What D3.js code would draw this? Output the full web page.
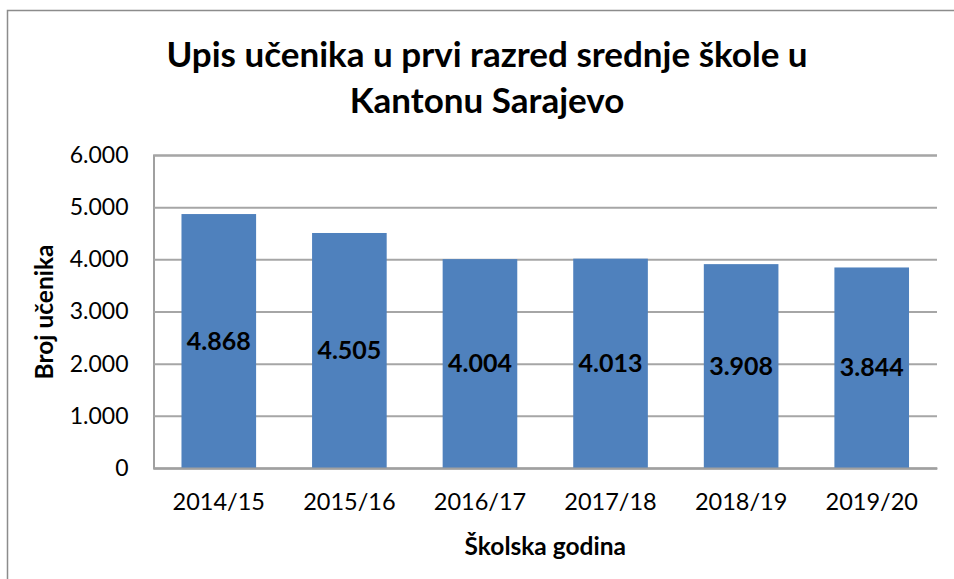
<!DOCTYPE html>
<html lang='bs'>
<head>
	<meta charset='UTF-8'>
	<title>Upis učenika</title>
	<style>
		body { margin: 0; background: #fff; }
		text { font-family: Lato, 'Open Sans', sans-serif; fill: #000; }
	</style>
</head>
<body>

<svg></svg>

<script src='https://d3js.org/d3.v7.min.js'></script>
<script>
const years = ['2014/15', '2015/16', '2016/17', '2017/18', '2018/19', '2019/20']
const students = [4868, 4505, 4004, 4013, 3908, 3844]
const yTicks = [0, 1000, 2000, 3000, 4000, 5000, 6000]
const titleLines = ['Upis učenika u prvi razred srednje škole u', 'Kantonu Sarajevo']

const width = 954
const height = 579
const plotLeft = 153.5, plotRight = 937, plotTop = 155, plotBottom = 468

const bs = d3.formatLocale({ decimal: ',', thousands: '.', grouping: [3], currency: ['', ''] })
const fmt = bs.format(',')

const svg = d3.select('svg')
	.attr('width', width)
	.attr('height', height)

// chart frame
svg.append('rect')
	.attr('x', 7.5).attr('y', 10.5)
	.attr('width', 960).attr('height', 600)
	.attr('fill', 'none').attr('stroke', '#8c8c8c').attr('stroke-width', 1.5)

const x = d3.scaleBand()
	.domain(years)
	.range([plotLeft, plotRight])
	.paddingInner(0.75 / 1.75)
	.paddingOuter(0.75 / 3.5)

const y = d3.scaleLinear()
	.domain([0, 6000])
	.range([plotBottom, plotTop])

// gridlines + y axis
const yAxis = svg.append('g')
	.attr('transform', `translate(${plotLeft},0)`)
	.call(d3.axisLeft(y).tickValues(yTicks).tickFormat(fmt).tickSize(-(plotRight - plotLeft)).tickPadding(25))
yAxis.select('.domain').attr('stroke', '#a0a0a0').attr('stroke-width', 2)
yAxis.selectAll('.tick line').attr('stroke', '#a6a6a6').attr('stroke-width', 2)
yAxis.selectAll('.tick text')
	.attr('font-size', 23)
	.attr('font-family', 'Lato, sans-serif')
	.attr('fill', '#000')

// bars
svg.append('g').selectAll('rect')
	.data(years)
	.join('rect')
	.attr('x', d => x(d))
	.attr('y', (d, i) => y(students[i]))
	.attr('width', x.bandwidth())
	.attr('height', (d, i) => y(0) - y(students[i]))
	.attr('fill', '#4f81bd')

// x axis
const xAxis = svg.append('g')
	.attr('transform', `translate(0,${plotBottom})`)
	.call(d3.axisBottom(x).tickSize(0).tickPadding(25))
xAxis.select('.domain').attr('stroke', '#a0a0a0').attr('stroke-width', 2)
xAxis.selectAll('.tick text')
	.attr('font-size', 23.5)
	.attr('font-family', 'Lato, sans-serif')
	.attr('fill', '#000')

// value labels
svg.append('g').selectAll('text')
	.data(years)
	.join('text')
	.attr('x', d => x(d) + x.bandwidth() / 2)
	.attr('y', (d, i) => (y(students[i]) + y(0)) / 2)
	.attr('dy', '0.35em')
	.attr('text-anchor', 'middle')
	.attr('font-size', 25)
	.attr('font-weight', 'bold')
	.text((d, i) => fmt(students[i]))

// title
svg.append('text')
	.attr('text-anchor', 'middle')
	.attr('font-size', 35)
	.attr('font-weight', 'bold')
	.selectAll('tspan')
	.data(titleLines)
	.join('tspan')
	.attr('x', 487)
	.attr('y', (d, i) => 67 + i * 46)
	.text(d => d)

// axis titles
svg.append('text')
	.attr('transform', `translate(53,312) rotate(-90)`)
	.attr('text-anchor', 'middle')
	.attr('font-size', 24.5)
	.attr('font-weight', 'bold')
	.text('Broj učenika')

svg.append('text')
	.attr('x', (plotLeft + plotRight) / 2)
	.attr('y', 555)
	.attr('text-anchor', 'middle')
	.attr('font-size', 24.5)
	.attr('font-weight', 'bold')
	.text('Školska godina')
</script>
</body>
</html>
